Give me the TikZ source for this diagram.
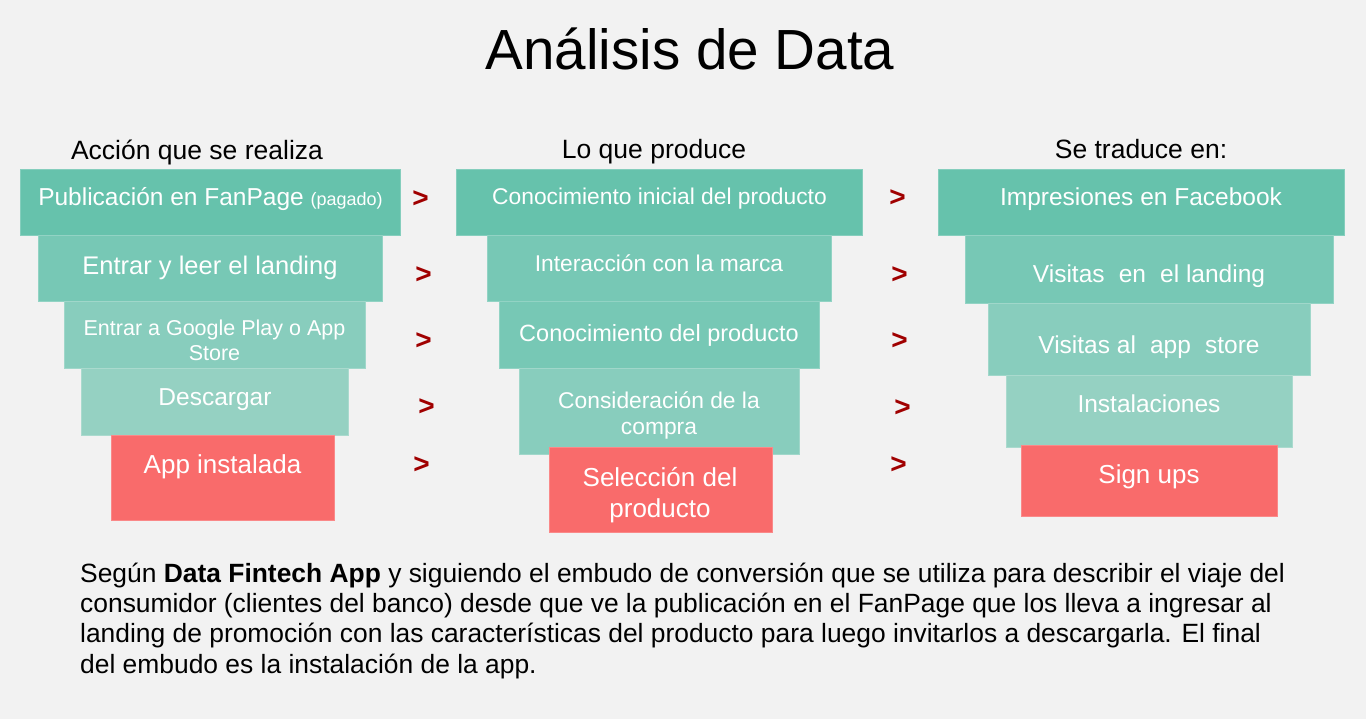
\documentclass[tikz,border=0pt]{standalone}
\usepackage{fontspec}
\setmainfont{Liberation Sans}
\definecolor{bg}{HTML}{F2F2F2}
\definecolor{cA}{HTML}{66C2AC}
\definecolor{cB}{HTML}{77C8B5}
\definecolor{cC}{HTML}{88CDBD}
\definecolor{cD}{HTML}{95D1C2}
\definecolor{cR}{HTML}{F96B6B}
\definecolor{arrowred}{HTML}{A00000}
\begin{document}
\begin{tikzpicture}[x=1pt,y=-1pt,
  box/.style={rectangle, inner sep=0pt, outer sep=0pt, line width=1pt, fill=#1, draw=#1!80!white},
  lbl/.style={anchor=base, inner sep=0pt, text=white, font=\fontsize{24.5}{28}\selectfont},
  lblsmall/.style={lbl, font=\fontsize{21.5}{25}\selectfont},
  lblbig/.style={lbl, font=\fontsize{26}{30}\selectfont},
  lblmid/.style={lbl, font=\fontsize{22.8}{27}\selectfont},
  hdr/.style={anchor=base, inner sep=0pt, text=black, font=\fontsize{26.5}{30}\selectfont},
  gt/.style={inner sep=0pt, text=arrowred, font=\bfseries\fontsize{28}{28}\selectfont},
  body/.style={anchor=base west, inner sep=0pt, text=black, font=\fontsize{26.4}{30}\selectfont}]
\fill[bg] (0,0) rectangle (1366,719);
\useasboundingbox (0,0) rectangle (1366,719);

% title
\node[anchor=base, inner sep=0pt, font=\fontsize{56.6}{60}\selectfont] (title) at (690,70) {Análisis de Data};

% headers
\node[hdr] (hL) at (197,160) {Acción que se realiza};
\node[hdr] (hM) at (654,159) {Lo que produce};
\node[hdr] (hR) at (1141,159) {Se traduce en:};

% left column
\node[box=cA, minimum width=380, minimum height=66] (L1) at (210,203) {};
\node[box=cB, minimum width=344, minimum height=66] (L2) at (210,269) {};
\node[box=cC, minimum width=301, minimum height=67] (L3) at (214.5,335.5) {};
\node[box=cD, minimum width=267, minimum height=66] (L4) at (214.5,402) {};
\node[box=cR, minimum width=223, minimum height=85] (L5) at (222.5,477.5) {};
\node[lbl] (L1t) at (210.5,206) {Publicación en FanPage {\fontsize{18}{20}\selectfont(pagado)}};
\node[lbl, font=\fontsize{25.5}{30}\selectfont] (L2t) at (210,275) {Entrar y leer el landing};
\node[lblsmall] (L3t) at (214.5,336) {Entrar a Google Play o App};
\node[lblsmall] (L3u) at (214.5,361) {Store};
\node[lbl] (L4t) at (215,406) {Descargar};
\node[lblbig] (L5t) at (222.5,473) {App instalada};

% middle column
\node[box=cA, minimum width=406, minimum height=66] (M1) at (659,203) {};
\node[box=cB, minimum width=344, minimum height=66] (M2) at (659,269) {};
\node[box=cB, minimum width=320, minimum height=67] (M3) at (659,335.5) {};
\node[box=cC, minimum width=280, minimum height=85] (M4) at (659,411.5) {};
\node[box=cR, minimum width=223, minimum height=85] (M5) at (660.5,489.5) {};
\node[lblmid] (M1t) at (659.5,205) {Conocimiento inicial del producto};
\node[lblmid] (M2t) at (659,272) {Interacción con la marca};
\node[lbl, font=\fontsize{23.5}{28}\selectfont] (M3t) at (659,342) {Conocimiento del producto};
\node[lblmid] (M4t) at (659,408) {Consideración de la};
\node[lblmid] (M4u) at (659,434) {compra};
\node[lblbig] (M5t) at (660,486) {Selección del};
\node[lblbig] (M5u) at (660,517) {producto};

% right column
\node[box=cA, minimum width=406, minimum height=66] (R1) at (1141,203) {};
\node[box=cB, minimum width=368, minimum height=68] (R2) at (1149,270) {};
\node[box=cC, minimum width=322, minimum height=72] (R3) at (1149,340) {};
\node[box=cD, minimum width=286, minimum height=71] (R4) at (1149,411.5) {};
\node[box=cR, minimum width=256, minimum height=71] (R5) at (1149,480.5) {};
\node[lbl] (R1t) at (1141,206) {Impresiones en Facebook};
\node[lbl] (R2t) at (1149,283) {Visitas\hspace{0.3em} en\hspace{0.3em} el landing};
\node[lbl] (R3t) at (1149,354) {Visitas al\hspace{0.3em} app\hspace{0.3em} store};
\node[lbl] (R4t) at (1149,413) {Instalaciones};
\node[lblbig] (R5t) at (1149,483) {Sign ups};

% arrows between columns
\node[gt] (g1) at (420.5,199) {>};
\node[gt] (g2) at (423.5,275) {>};
\node[gt] (g3) at (423.5,341.5) {>};
\node[gt] (g4) at (426.5,407.5) {>};
\node[gt] (g5) at (421.5,465) {>};
\node[gt] (h1) at (897.5,198.5) {>};
\node[gt] (h2) at (899.5,275) {>};
\node[gt] (h3) at (899.5,341.5) {>};
\node[gt] (h4) at (902.5,408) {>};
\node[gt] (h5) at (898.5,465) {>};

% paragraph
\node[body] (p1) at (80,582) {Según \textbf{Data Fintech App} y siguiendo el embudo de conversión que se utiliza para describir el viaje del};
\node[body] (p2) at (80,612) {consumidor (clientes del banco) desde que ve la publicación en el FanPage que los lleva a ingresar al};
\node[body] (p3) at (80,642) {landing de promoción con las características del producto para luego invitarlos a descargarla. El final};
\node[body] (p4) at (80,673) {del embudo es la instalación de la app.};
\end{tikzpicture}
\end{document}
